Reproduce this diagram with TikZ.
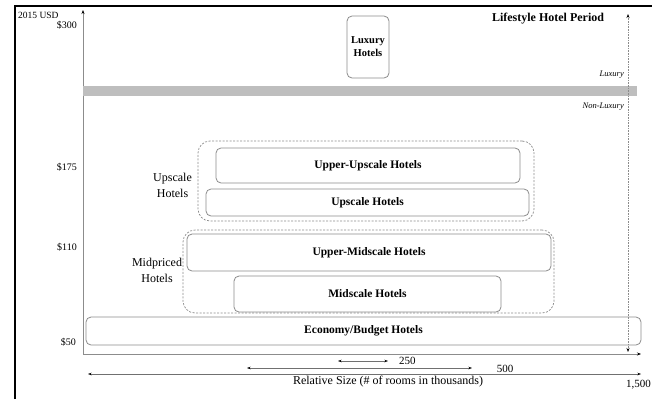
\documentclass[tikz,border=0pt]{standalone}
\usepackage{fontspec}
\setmainfont{Liberation Serif}
\usetikzlibrary{arrows.meta}
\definecolor{lgray}{HTML}{8C8C8C}
\definecolor{band}{HTML}{BEBEBE}
\tikzset{
  hotelbox/.style={draw=lgray,line width=0.8pt,rounded corners=5pt,inner sep=0pt,
    align=center,font=\fontsize{11.5}{13}\selectfont\bfseries},
  groupbox/.style={draw=lgray,line width=0.7pt,dash pattern=on 2pt off 1.5pt,
    rounded corners=12pt,inner sep=0pt},
  grouplabel/.style={align=center,font=\fontsize{12}{16}\selectfont,inner sep=0pt},
  money/.style={anchor=east,font=\fontsize{10}{12}\selectfont,inner sep=0pt},
  axisline/.style={draw=lgray,line width=0.8pt},
  szline/.style={draw=lgray!80!black,line width=0.8pt},
  smallital/.style={anchor=east,font=\fontsize{8.5}{10}\selectfont\itshape,inner sep=0pt},
}
\begin{document}
\begin{tikzpicture}[x=1pt,y=-1pt]
\useasboundingbox (0,0) rectangle (652,399);
\fill[white] (0,0) rectangle (652,399);
% frame
\draw[black,line width=2pt] (15,399) -- (15,6) -- (652,6);
% axes
\coordinate (origin) at (83,354);
\coordinate (ytop) at (83,10);
\coordinate (xend) at (641,354);
\draw[axisline,-{Stealth[black,length=4pt,width=3pt]}] (origin) -- (ytop);
\draw[axisline,-{Stealth[black,length=4pt,width=3pt]}] (origin) -- (xend);
% band
\node[fill=band,inner sep=0pt,minimum width=554pt,minimum height=10pt] (band) at (360,91) {};
% dotted arrow
\coordinate (dtop) at (628,14);
\coordinate (dbot) at (628,352);
\draw[draw=lgray,line width=0.6pt,dash pattern=on 0.8pt off 0.8pt,{Stealth[black,length=4pt,width=3pt]}-{Stealth[black,length=4pt,width=3pt]}] (dbot) -- (dtop);
% texts
\node[anchor=west,font=\fontsize{9.5}{11}\selectfont,inner sep=0pt] (usd) at (18,15) {2015 USD};
\node[money] (m300) at (77,25) {\$300};
\node[money] (m175) at (77,167) {\$175};
\node[money] (m110) at (77,247) {\$110};
\node[money] (m50) at (76,342) {\$50};
\node[font=\fontsize{12}{14}\selectfont\bfseries,inner sep=0pt] (period) at (548,19) {Lifestyle Hotel Period};
\node[smallital] (lux) at (624,75) {Luxury};
\node[smallital] (nonlux) at (624,107) {Non-Luxury};
% groups
\node[groupbox,minimum width=336pt,minimum height=80pt] (upgroup) at (366,181) {};
\node[groupbox,minimum width=371pt,minimum height=83pt] (midgroup) at (368.5,271.5) {};
\node[grouplabel] (uplabel) at (172.5,185.5) {Upscale\\Hotels};
\node[grouplabel] (midlabel) at (157,270.5) {Midpriced\\Hotels};
% boxes
\node[hotelbox,minimum width=42pt,minimum height=62pt,font=\fontsize{10.5}{13}\selectfont\bfseries] (luxury) at (368,47) {Luxury\\Hotels};
\node[hotelbox,minimum width=304pt,minimum height=35pt] (uu) at (368,165.5) {Upper-Upscale Hotels};
\node[hotelbox,minimum width=323pt,minimum height=27pt] (us) at (367.5,202.5) {Upscale Hotels};
\node[hotelbox,minimum width=364pt,minimum height=37pt] (um) at (369,252.5) {Upper-Midscale Hotels};
\node[hotelbox,minimum width=267pt,minimum height=36pt] (ms) at (367.5,294) {Midscale Hotels};
\node[hotelbox,minimum width=555pt,minimum height=28pt] (eco) at (363.5,331) {Economy/Budget Hotels};
% size arrows
\coordinate (s1a) at (338,361); \coordinate (s1b) at (388,361);
\coordinate (s2a) at (247,368); \coordinate (s2b) at (472,368);
\coordinate (s3a) at (88,374); \coordinate (s3b) at (641,374);
\draw[szline,{Stealth[black,length=3.5pt,width=2.5pt]}-{Stealth[black,length=3.5pt,width=2.5pt]}] (s1a) -- (s1b);
\draw[szline,{Stealth[black,length=3.5pt,width=2.5pt]}-{Stealth[black,length=3.5pt,width=2.5pt]}] (s2a) -- (s2b);
\draw[szline,{Stealth[black,length=3.5pt,width=2.5pt]}-{Stealth[black,length=3.5pt,width=2.5pt]}] (s3a) -- (s3b);
\node[anchor=west,font=\fontsize{11}{13}\selectfont,inner sep=0pt] (l250) at (399,361) {250};
\node[font=\fontsize{11}{13}\selectfont,inner sep=0pt] (l500) at (505,369) {500};
\node[font=\fontsize{12}{14}\selectfont,inner sep=0pt] (rel) at (388,382) {Relative Size (\# of rooms in thousands)};
\node[anchor=east,font=\fontsize{11}{13}\selectfont,inner sep=0pt] (l1500) at (651,385) {1,500};
\end{tikzpicture}
\end{document}
